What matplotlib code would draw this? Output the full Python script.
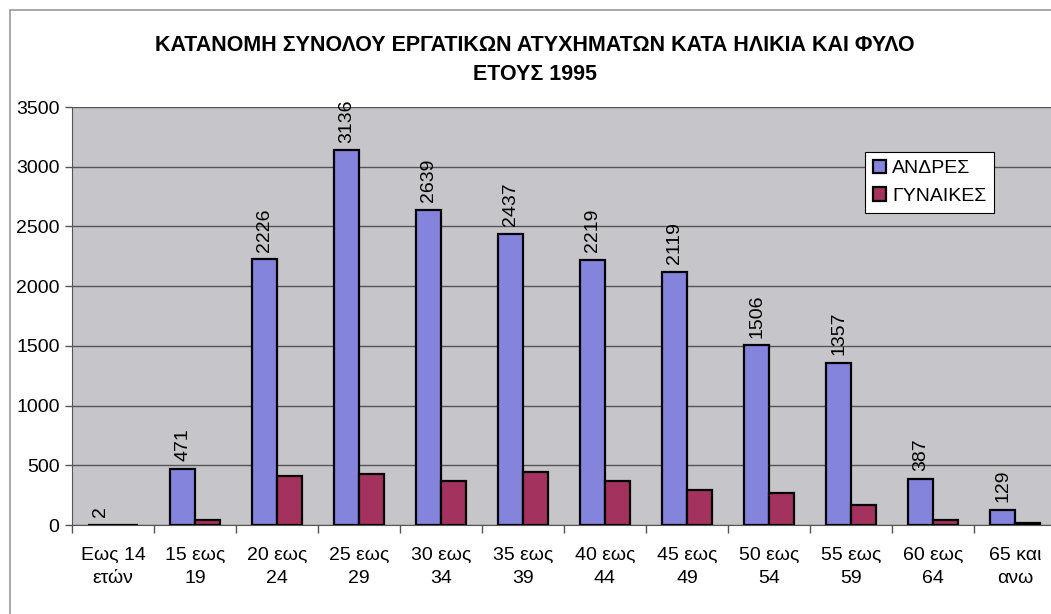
import matplotlib
matplotlib.use("Agg")
import matplotlib.pyplot as plt
from matplotlib.patches import Rectangle
from matplotlib import font_manager
import numpy as np

categories = ["Εως 14\nετών", "15 εως\n19", "20 εως\n24", "25 εως\n29", "30 εως\n34",
              "35 εως\n39", "40 εως\n44", "45 εως\n49", "50 εως\n54", "55 εως\n59",
              "60 εως\n64", "65 και\nανω"]
men = [2, 471, 2226, 3136, 2639, 2437, 2219, 2119, 1506, 1357, 387, 129]
women = [0, 45, 410, 425, 372, 440, 370, 295, 270, 170, 45, 20]
series_names = ["ΑΝΔΡΕΣ", "ΓΥΝΑΙΚΕΣ"]
title = "ΚΑΤΑΝΟΜΗ ΣΥΝΟΛΟΥ ΕΡΓΑΤΙΚΩΝ ΑΤΥΧΗΜΑΤΩΝ ΚΑΤΑ ΗΛΙΚΙΑ ΚΑΙ ΦΥΛΟ\nΕΤΟΥΣ 1995"
yticks = [0, 500, 1000, 1500, 2000, 2500, 3000, 3500]

avail = {f.name for f in font_manager.fontManager.ttflist}
body_font = "Liberation Sans" if "Liberation Sans" in avail else "DejaVu Sans"
title_font = "Liberation Sans Narrow" if "Liberation Sans Narrow" in avail else body_font
plt.rcParams['font.family'] = [body_font, 'DejaVu Sans']

W, H = 1051, 614
fig = plt.figure(figsize=(W / 100, H / 100), dpi=100)
fig.patch.set_facecolor("white")

# outer chart frame
fig.patches.append(Rectangle((10 / W, -0.01), 1.02, 1 - 10 / H + 0.01, transform=fig.transFigure,
                             fill=False, edgecolor="#9a9a9a", linewidth=1.2))

ax = fig.add_axes([72 / W, 1 - 525 / H, 984 / W, 418 / H])
ax.set_facecolor("#c6c6ca")

x = np.arange(len(categories))
bw = 0.30
ax.bar(x - bw / 2, men, bw, color="#8484dc", edgecolor="black", linewidth=1.6, label=series_names[0], zorder=3)
ax.bar(x + bw / 2, women, bw, color="#a3325f", edgecolor="black", linewidth=1.6, label=series_names[1], zorder=3)

for xi, v in zip(x, men):
    ax.annotate(str(v), (xi - bw / 2, v), xytext=(0, 5.5), textcoords="offset points",
                rotation=90, ha="center", va="bottom", fontsize=14, zorder=4)

ax.set_xlim(-0.5, len(categories) - 0.5)
ax.set_ylim(0, 3500)
ax.set_yticks(yticks)
ax.yaxis.grid(True, color="#555555", linewidth=1.0, zorder=1)
ax.tick_params(axis="y", labelsize=14, length=5, width=1, color="#555555", pad=4)

ax.set_xticks(x)
ax.set_xticklabels(categories, fontsize=14, linespacing=1.45)
ax.set_xticks(np.arange(-0.5, len(categories) + 0.5, 1), minor=True)
ax.tick_params(axis="x", which="major", length=0, pad=16)
ax.tick_params(axis="x", which="minor", length=6, width=1, color="#555555")

for s in ["top", "right"]:
    ax.spines[s].set_visible(False)
ax.spines["left"].set_color("#555555")
ax.spines["bottom"].set_color("#555555")

fig.text(535 / W, 1 - 60 / H, title, ha="center", va="center", fontsize=15.5, fontweight="bold",
         family=[title_font, 'DejaVu Sans'], linespacing=1.45)

leg = ax.legend(loc="upper left", bbox_to_anchor=(865 / W, 1 - 152 / H), bbox_transform=fig.transFigure,
                borderaxespad=0, fontsize=14, frameon=True, fancybox=False, edgecolor="black", framealpha=1,
                handlelength=0.7, handleheight=0.7, handletextpad=0.3, borderpad=0.4, labelspacing=0.5)
leg.get_frame().set_linewidth(0.8)

fig.savefig("out.png", dpi=100)
